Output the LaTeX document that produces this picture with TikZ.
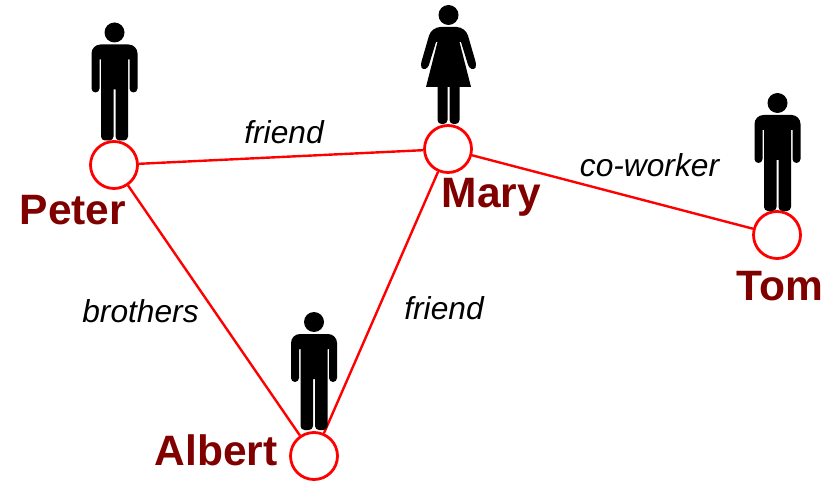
\documentclass[tikz,border=0pt]{standalone}
\usepackage{fontspec}
\setmainfont{Liberation Sans}
\usetikzlibrary{positioning}
\definecolor{namered}{RGB}{128,0,0}
\tikzset{
    person/.style={circle, draw=red, fill=white, line width=2.8pt, minimum size=47pt, inner sep=0pt},
    link/.style={draw=red, line width=2.4pt},
    namelabel/.style={text=namered, font=\bfseries\fontsize{42.5}{44}\selectfont, inner sep=0pt},
    rellabel/.style={font=\itshape\fontsize{31.7}{34}\selectfont, inner sep=0pt},
    manfig/.pic={
        \fill (0,0) circle (10);
        \fill[rounded corners=4] (-23,60) [rounded corners=9] -- (-23,12) -- (23,12) [rounded corners=4] -- (23,60) -- (15,60) [sharp corners] -- (15,27) -- (13.5,27) [rounded corners=4] -- (13.5,108) -- (1,108) [sharp corners] -- (1,57) -- (-1,57) [rounded corners=4] -- (-1,108) -- (-13.5,108) [sharp corners] -- (-13.5,27) -- (-15,27) [rounded corners=4] -- (-15,60) -- cycle;
    },
    womanfig/.pic={
        \fill (0,0) circle (10);
        \fill[sharp corners] (-11,27) -- (-22.5,72) -- (22.5,72) -- (11,27) -- (12.5,27) [rounded corners=3] -- (20.5,53) -- (26,55) -- (28,50) [rounded corners=9] -- (17,12) -- (-17,12) [rounded corners=3] -- (-28,50) -- (-26,55) -- (-20.5,53) [sharp corners] -- (-12.5,27) -- cycle;
        \fill[rounded corners=4] (-11,60) -- (11,60) -- (11,109) -- (1,109) [sharp corners] -- (1,72) -- (-1,72) [rounded corners=4] -- (-1,109) -- (-11,109) -- cycle;
    }
}
\begin{document}
\begin{tikzpicture}[x=1pt, y=-1pt]
    \useasboundingbox (0,0) rectangle (834,481);
    \node[person] (peter) at (114,165) {};
    \node[person] (mary) at (448,149) {};
    \node[person] (tom) at (777,235) {};
    \node[person] (albert) at (314,456) {};
    \draw[link] (peter) -- (mary);
    \draw[link] (mary) -- (tom);
    \draw[link] (peter) -- (albert);
    \draw[link] (mary) -- (albert);
    \pic at (114.5,32.5) {manfig};
    \pic at (448.5,15) {womanfig};
    \pic at (777.5,103) {manfig};
    \pic at (314,322) {manfig};
    \node[namelabel] (petername) at (73,210) {Peter};
    \node[namelabel] (maryname) at (491.5,197) {Mary};
    \node[namelabel] (tomname) at (780,286) {Tom};
    \node[namelabel] (albertname) at (216,450) {Albert};
    \node[rellabel] (peterfriend) at (284,132) {friend};
    \node[rellabel] (coworker) at (649.5,165) {co-worker};
    \node[rellabel] (brothers) at (140.5,311) {brothers};
    \node[rellabel] (albertfriend) at (444,308) {friend};
\end{tikzpicture}
\end{document}
